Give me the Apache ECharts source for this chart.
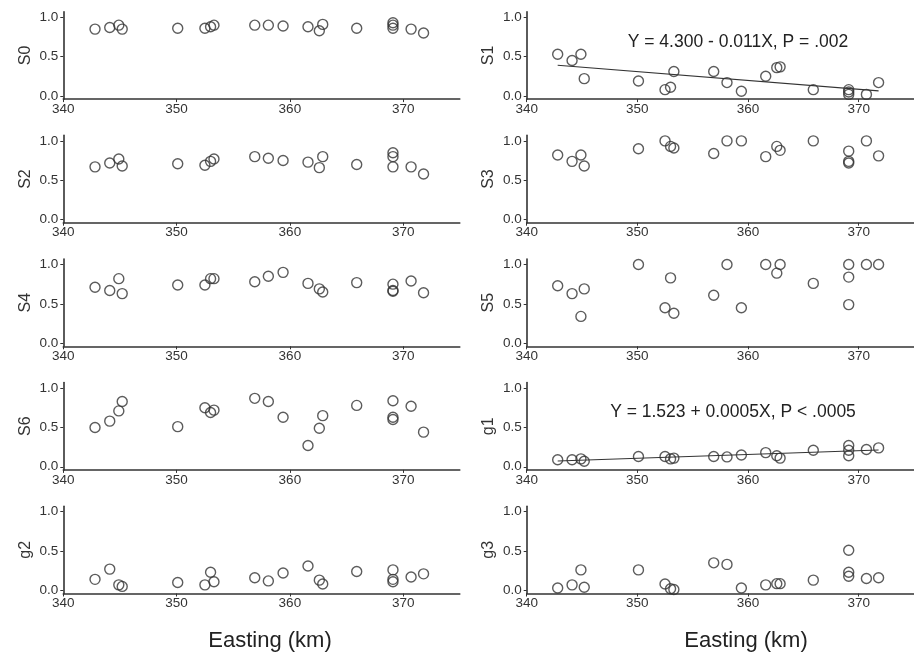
<!DOCTYPE html>
<html>
<head>
<meta charset="utf-8">
<title>Easting scatter panels</title>
<script src="https://cdn.jsdelivr.net/npm/echarts@6/dist/echarts.min.js"></script>
<style>
  html, body { margin: 0; padding: 0; background: #fff; }
  #chart { width: 914px; height: 669px; }
</style>
</head>
<body>
<div id="chart"></div>
<script>
// Easting (km) of the sampling sites, shared by every panel
const easting = [342.8, 344.1, 344.9, 345.2, 350.1, 352.5, 353.0, 353.3, 356.9, 358.1,
                 359.4, 361.6, 362.6, 362.9, 365.9, 369.1, 369.1, 369.1, 370.7, 371.8];

const S0 = [0.85, 0.87, 0.90, 0.85, 0.86, 0.86, 0.88, 0.90, 0.90, 0.90,
            0.89, 0.88, 0.83, 0.91, 0.86, 0.93, 0.90, 0.86, 0.85, 0.80];
const S1 = [0.53, 0.45, 0.53, 0.22, 0.19, 0.08, 0.11, 0.31, 0.31, 0.17,
            0.06, 0.25, 0.36, 0.37, 0.08, 0.08, 0.05, 0.02, 0.02, 0.17];
const S2 = [0.67, 0.72, 0.77, 0.68, 0.71, 0.69, 0.74, 0.77, 0.80, 0.78,
            0.75, 0.73, 0.66, 0.80, 0.70, 0.85, 0.80, 0.67, 0.67, 0.58];
const S3 = [0.82, 0.74, 0.82, 0.68, 0.90, 1.00, 0.93, 0.91, 0.84, 1.00,
            1.00, 0.80, 0.93, 0.88, 1.00, 0.87, 0.74, 0.72, 1.00, 0.81];
const S4 = [0.71, 0.67, 0.82, 0.63, 0.74, 0.74, 0.82, 0.82, 0.78, 0.85,
            0.90, 0.76, 0.69, 0.65, 0.77, 0.75, 0.67, 0.66, 0.79, 0.64];
const S5 = [0.73, 0.63, 0.34, 0.69, 1.00, 0.45, 0.83, 0.38, 0.61, 1.00,
            0.45, 1.00, 0.89, 1.00, 0.76, 1.00, 0.84, 0.49, 1.00, 1.00];
const S6 = [0.50, 0.58, 0.71, 0.83, 0.51, 0.75, 0.69, 0.72, 0.87, 0.83,
            0.63, 0.27, 0.49, 0.65, 0.78, 0.84, 0.63, 0.60, 0.77, 0.44];
const g1 = [0.09, 0.09, 0.10, 0.07, 0.13, 0.13, 0.10, 0.11, 0.13, 0.125,
            0.15, 0.18, 0.14, 0.11, 0.21, 0.27, 0.21, 0.14, 0.22, 0.24];
const g2 = [0.14, 0.27, 0.07, 0.05, 0.10, 0.07, 0.23, 0.11, 0.16, 0.12,
            0.22, 0.31, 0.13, 0.08, 0.24, 0.26, 0.14, 0.11, 0.17, 0.21];
const g3 = [0.03, 0.07, 0.26, 0.04, 0.26, 0.08, 0.02, 0.01, 0.35, 0.33,
            0.03, 0.07, 0.085, 0.085, 0.13, 0.51, 0.23, 0.18, 0.15, 0.16];

// Panel order: left column top to bottom, right column top to bottom
const panelNames = ['S0', 'S2', 'S4', 'S6', 'g2', 'S1', 'S3', 'S5', 'g1', 'g3'];
const panelValues = { S0, S1, S2, S3, S4, S5, S6, g1, g2, g3 };

// Panels carrying a fitted regression line, with their printed equations
const fittedPanels = ['S1', 'g1'];
const equationText = {
  S1: 'Y = 4.300 - 0.011X, P = .002',
  g1: 'Y = 1.523 + 0.0005X, P < .0005'
};

const xTicks = [340, 350, 360, 370];
const yTicks = [0, 0.5, 1];
const xLabel = 'Easting (km)';

// Ordinary least-squares line through a panel's points
function leastSquares(xs, ys) {
  const n = xs.length;
  const mx = xs.reduce((a, b) => a + b, 0) / n;
  const my = ys.reduce((a, b) => a + b, 0) / n;
  let sxy = 0, sxx = 0;
  for (let i = 0; i < n; i++) {
    sxy += (xs[i] - mx) * (ys[i] - my);
    sxx += (xs[i] - mx) * (xs[i] - mx);
  }
  const slope = sxy / sxx;
  const x0 = Math.min(...xs), x1 = Math.max(...xs);
  return [[x0, my + slope * (x0 - mx)], [x1, my + slope * (x1 - mx)]];
}

const FONT = '"Liberation Sans", Arial, sans-serif';
const INK = '#333';

const colLeft = [63.3, 526.7];
const gridWidth = 396.5;
const rowTop0 = 11.8;
const rowStep = 123.6;
const gridHeight = 87.3;

const grids = [], xAxes = [], yAxes = [], series = [];

panelNames.forEach((name, i) => {
  const col = i < 5 ? 0 : 1;
  const row = i % 5;
  grids.push({
    left: colLeft[col],
    top: rowTop0 + row * rowStep,
    width: gridWidth,
    height: gridHeight,
    containLabel: false
  });
  xAxes.push({
    gridIndex: i,
    type: 'value',
    min: 340,
    max: 375,
    interval: 10,
    splitLine: { show: false },
    axisLine: { onZero: false, lineStyle: { color: INK, width: 1.6 } },
    axisTick: { show: true, length: 3, lineStyle: { color: INK, width: 1 }, customValues: xTicks },
    axisLabel: {
      customValues: xTicks,
      color: INK, fontFamily: FONT, fontSize: 13.5, margin: 3
    }
  });
  yAxes.push({
    gridIndex: i,
    type: 'value',
    min: -0.04,
    max: 1.07,
    name: name,
    nameLocation: 'middle',
    nameRotate: 90,
    nameGap: 30,
    nameTextStyle: { color: INK, fontFamily: FONT, fontSize: 16 },
    splitLine: { show: false },
    axisLine: { show: true, onZero: false, lineStyle: { color: INK, width: 1.6 } },
    axisTick: { show: true, length: 3, lineStyle: { color: INK, width: 1 }, customValues: yTicks },
    axisLabel: {
      customValues: yTicks,
      formatter: v => Number(v).toFixed(1),
      color: INK, fontFamily: FONT, fontSize: 13.5, margin: 5
    }
  });

  const ys = panelValues[name];
  series.push({
    type: 'scatter',
    xAxisIndex: i,
    yAxisIndex: i,
    symbol: 'circle',
    symbolSize: 10,
    itemStyle: { color: 'rgba(0,0,0,0)', borderColor: INK, borderWidth: 1.4 },
    data: easting.map((x, k) => [x, ys[k]]),
    silent: true
  });

  if (fittedPanels.includes(name)) {
    series.push({
      type: 'line',
      xAxisIndex: i,
      yAxisIndex: i,
      showSymbol: false,
      silent: true,
      lineStyle: { color: INK, width: 1.1 },
      data: leastSquares(easting, ys),
      z: 1
    });
  }
});

const graphics = [];

// Regression equations placed inside their panels
graphics.push({
  type: 'text', x: 738, y: 42,
  style: { text: equationText.S1, font: '17.5px ' + FONT, fill: '#222', align: 'center', verticalAlign: 'middle' }
});
graphics.push({
  type: 'text', x: 733, y: 412,
  style: { text: equationText.g1, font: '17.5px ' + FONT, fill: '#222', align: 'center', verticalAlign: 'middle' }
});
// Shared x-axis titles under each column
[270, 746].forEach(cx => graphics.push({
  type: 'text', x: cx, y: 641,
  style: { text: xLabel, font: '22px ' + FONT, fill: '#222', align: 'center', verticalAlign: 'middle' }
}));

const chart = echarts.init(document.getElementById('chart'), null, { renderer: 'canvas' });
chart.setOption({
  backgroundColor: '#fff',
  animation: false,
  grid: grids,
  xAxis: xAxes,
  yAxis: yAxes,
  series: series,
  graphic: graphics
});
</script>
</body>
</html>
